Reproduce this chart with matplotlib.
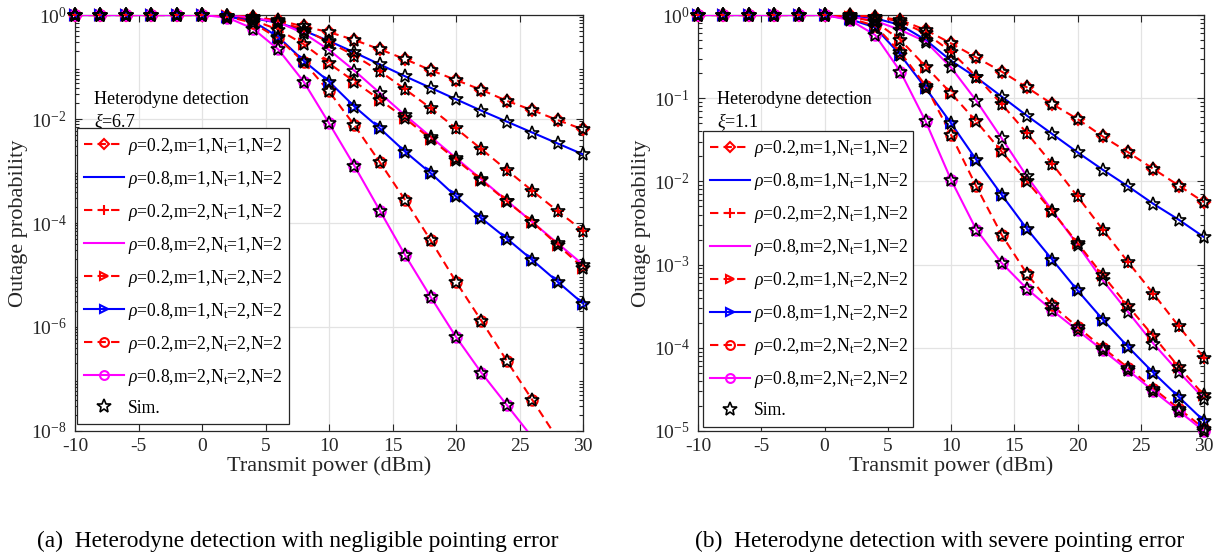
import numpy as np
import matplotlib
matplotlib.use('Agg')
import matplotlib.pyplot as plt
from matplotlib.lines import Line2D
from matplotlib.ticker import LogLocator, NullFormatter, FixedLocator

plt.rcParams['font.family'] = ['Liberation Serif', 'DejaVu Serif']
plt.rcParams['mathtext.fontset'] = 'custom'
plt.rcParams['mathtext.rm'] = 'Liberation Serif'
plt.rcParams['mathtext.it'] = 'Liberation Serif:italic'
plt.rcParams['mathtext.bf'] = 'Liberation Serif:bold'

# ---------------- data (log10 of outage probability) ----------------
power_dbm = list(range(-10, 31, 2))
flat = [0, 0, 0, 0, 0, 0]

# (a) xi = 6.7
a_c1 = flat + [-0.01, -0.04, -0.10, -0.22, -0.33, -0.48, -0.66, -0.85, -1.06, -1.25, -1.44, -1.65, -1.83, -2.02, -2.20]
a_c2 = flat + [-0.02, -0.06, -0.15, -0.30, -0.50, -0.72, -0.95, -1.18, -1.40, -1.62, -1.84, -2.05, -2.26, -2.47, -2.68]
a_c3 = flat + [-0.01, -0.04, -0.12, -0.28, -0.52, -0.78, -1.08, -1.43, -1.79, -2.18, -2.58, -2.98, -3.38, -3.77, -4.15]
a_c4 = flat + [-0.015, -0.05, -0.14, -0.35, -0.67, -1.07, -1.50, -1.93, -2.34, -2.75, -3.16, -3.57, -3.98, -4.39, -4.80]
a_c5 = flat + [-0.02, -0.10, -0.28, -0.56, -0.93, -1.28, -1.63, -1.99, -2.38, -2.78, -3.18, -3.58, -3.98, -4.42, -4.86]
a_c6 = flat + [-0.03, -0.12, -0.42, -0.88, -1.28, -1.76, -2.18, -2.63, -3.04, -3.49, -3.91, -4.30, -4.71, -5.13, -5.55]
a_c7 = flat + [-0.03, -0.15, -0.45, -0.90, -1.47, -2.12, -2.83, -3.56, -4.33, -5.13, -5.88, -6.65, -7.40, -8.15, -8.90]
a_c8 = flat + [-0.05, -0.26, -0.66, -1.28, -2.08, -2.90, -3.76, -4.62, -5.42, -6.19, -6.88, -7.50, -8.12, -8.72, -9.30]

# (b) xi = 1.1
b_c1 = flat + [-0.005, -0.02, -0.06, -0.18, -0.34, -0.51, -0.68, -0.87, -1.07, -1.25, -1.46, -1.65, -1.85, -2.05, -2.25]
b_c2 = flat + [-0.01, -0.04, -0.12, -0.30, -0.55, -0.75, -0.98, -1.21, -1.43, -1.65, -1.86, -2.06, -2.27, -2.46, -2.67]
b_c3 = flat + [-0.005, -0.02, -0.08, -0.22, -0.44, -0.74, -1.07, -1.42, -1.79, -2.18, -2.58, -2.97, -3.35, -3.74, -4.12]
b_c4 = flat + [-0.02, -0.07, -0.18, -0.32, -0.63, -1.03, -1.48, -1.94, -2.35, -2.76, -3.19, -3.57, -3.95, -4.29, -4.61]
b_c5 = flat + [-0.02, -0.08, -0.30, -0.62, -0.94, -1.28, -1.64, -2.00, -2.36, -2.74, -3.13, -3.50, -3.86, -4.23, -4.57]
b_c6 = flat + [-0.05, -0.15, -0.48, -0.88, -1.30, -1.74, -2.16, -2.57, -2.94, -3.31, -3.66, -3.99, -4.30, -4.59, -4.88]
b_c7 = flat + [-0.04, -0.13, -0.45, -0.85, -1.44, -2.06, -2.64, -3.11, -3.49, -3.75, -4.00, -4.24, -4.49, -4.73, -4.97]
b_c8 = flat + [-0.06, -0.24, -0.68, -1.28, -1.98, -2.58, -2.98, -3.29, -3.55, -3.79, -4.03, -4.27, -4.52, -4.76, -5.00]

series_labels = [
    r'$\rho$=0.2,m=1,$\mathrm{N_t}$=1,N=2',
    r'$\rho$=0.8,m=1,$\mathrm{N_t}$=1,N=2',
    r'$\rho$=0.2,m=2,$\mathrm{N_t}$=1,N=2',
    r'$\rho$=0.8,m=2,$\mathrm{N_t}$=1,N=2',
    r'$\rho$=0.2,m=1,$\mathrm{N_t}$=2,N=2',
    r'$\rho$=0.8,m=1,$\mathrm{N_t}$=2,N=2',
    r'$\rho$=0.2,m=2,$\mathrm{N_t}$=2,N=2',
    r'$\rho$=0.8,m=2,$\mathrm{N_t}$=2,N=2',
]
sim_label = 'Sim.'
xticks = [-10, -5, 0, 5, 10, 15, 20, 25, 30]
xtick_labels = ['-10', '-5', '0', '5', '10', '15', '20', '25', '30']
a_yticks = [0, -2, -4, -6, -8]
b_yticks = [0, -1, -2, -3, -4, -5]
panel_notes = [r'Heterodyne detection', r'$\xi$=6.7', r'$\xi$=1.1']
captions = ['(a)  Heterodyne detection with negligible pointing error',
            '(b)  Heterodyne detection with severe pointing error']

# ---------------- styles ----------------
RED, BLUE, MAG = '#ff0000', '#0000ff', '#ff00ff'
styles = [
    dict(color=RED, ls='--', marker='D', ms=6.5),
    dict(color=BLUE, ls='-', marker=None, ms=0),
    dict(color=RED, ls='--', marker='+', ms=9),
    dict(color=MAG, ls='-', marker=None, ms=0),
    dict(color=RED, ls='--', marker='>', ms=7.5),
    dict(color=BLUE, ls='-', marker='>', ms=7.5),
    dict(color=RED, ls='--', marker='o', ms=7.5),
    dict(color=MAG, ls='-', marker='o', ms=7.5),
]
LW = 1.5
DASH = (4, 2.5)
DARK = '#262626'

fig = plt.figure(figsize=(12.16, 5.56), dpi=100)
ax_a = fig.add_axes([75/1216, 125/556, 508/1216, 416/556])
ax_b = fig.add_axes([698/1216, 125/556, 506/1216, 416/556])


def draw(ax, curves, ymin, yticks, note, leg_box):
    x = np.array(power_dbm, dtype=float)
    for cur, st in zip(curves, styles):
        y = 10.0 ** np.array(cur)
        kw = dict(color=st['color'], lw=LW, zorder=3)
        if st['ls'] == '--':
            kw['dashes'] = DASH
        else:
            kw['ls'] = '-'
        ax.plot(x, y, **kw)
    # markers (not clipped at the box, as in the original)
    for cur, st in zip(curves, styles):
        if st['marker'] is None:
            continue
        y = 10.0 ** np.array(cur)
        m = y >= 10.0 ** ymin * 0.999
        ax.plot(x[m], y[m], ls='none', marker=st['marker'], ms=st['ms'],
                mfc='none', mec=st['color'], mew=1.5, clip_on=False, zorder=4)
    for cur in curves:
        y = 10.0 ** np.array(cur)
        m = y >= 10.0 ** ymin * 0.999
        ax.plot(x[m], y[m], ls='none', marker='*', ms=10, mfc='none',
                mec='k', mew=1.2, clip_on=False, zorder=5)

    ax.set_yscale('log')
    ax.set_xlim(-10, 30)
    ax.set_ylim(10.0 ** ymin, 1)
    ax.set_xticks(xticks)
    ax.set_xticklabels(xtick_labels)
    ax.yaxis.set_major_locator(FixedLocator([10.0 ** k for k in yticks]))
    ax.set_yticklabels([r'$10^{%d}$' % k for k in yticks])
    ax.yaxis.set_minor_locator(LogLocator(base=10, subs=np.arange(2, 10), numticks=100))
    ax.yaxis.set_minor_formatter(NullFormatter())
    ax.tick_params(which='both', direction='in', top=True, right=True,
                   colors=DARK, labelsize=14, width=0.8)
    ax.tick_params(which='major', length=5)
    ax.tick_params(axis='x', which='major', pad=5)
    ax.tick_params(axis='y', which='major', pad=6)
    ax.tick_params(which='minor', length=3)
    ax.grid(True, which='major', color='#e3e3e3', lw=0.9)
    ax.set_axisbelow(True)
    for s in ax.spines.values():
        s.set_color(DARK)
        s.set_linewidth(0.9)
    ax.set_xlabel('Transmit power (dBm)', fontsize=16, color=DARK, labelpad=1)
    ax.set_ylabel('Outage probability', fontsize=16, color=DARK, labelpad=2)

    ax.text(0.038, 0.798, panel_notes[0], transform=ax.transAxes, fontsize=13,
            va='center', ha='left', color='k')
    ax.text(0.038, 0.743, note, transform=ax.transAxes, fontsize=13,
            va='center', ha='left', color='k')

    handles = []
    for st in styles:
        kw = dict(color=st['color'], lw=LW)
        if st['ls'] == '--':
            kw['dashes'] = DASH
        h = Line2D([], [], marker=st['marker'] if st['marker'] else None,
                   ms=st['ms'] * 0.85, mfc='none', mec=st['color'], mew=1.5, **kw)
        handles.append(h)
    handles.append(Line2D([], [], ls='none', marker='*', ms=10, mfc='none', mec='k', mew=1.2))
    leg = ax.legend(handles, series_labels + [sim_label], loc='lower left',
                    bbox_to_anchor=leg_box, mode='expand', fontsize=12.7,
                    frameon=True, fancybox=False, framealpha=1, edgecolor=DARK,
                    handlelength=2.25, handletextpad=0.22, labelspacing=0.68,
                    borderpad=0.42, borderaxespad=0)
    leg.get_frame().set_linewidth(0.9)
    leg.set_zorder(10)


draw(ax_a, [a_c1, a_c2, a_c3, a_c4, a_c5, a_c6, a_c7, a_c8], -8, a_yticks,
     panel_notes[1], (0.004, 0.017, 0.417, 0.699))
draw(ax_b, [b_c1, b_c2, b_c3, b_c4, b_c5, b_c6, b_c7, b_c8], -5, b_yticks,
     panel_notes[2], (0.010, 0.010, 0.415, 0.721))

fig.text(298/1216, 1 - 541/556, captions[0], ha='center', va='center', fontsize=16.8, color='k')
fig.text(940/1216, 1 - 541/556, captions[1], ha='center', va='center', fontsize=16.8, color='k')

fig.savefig('out.png', dpi=100)
